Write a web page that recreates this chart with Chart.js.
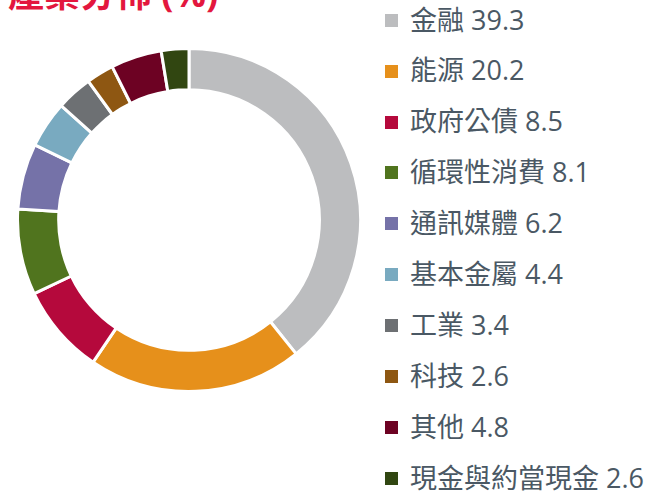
<!DOCTYPE html>
<html>
<head>
<meta charset="utf-8">
<script src="https://cdn.jsdelivr.net/npm/chart.js@4"></script>
<style>
  html, body { margin: 0; padding: 0; background: #fff; }
  body { width: 653px; height: 495px; overflow: hidden; position: relative;
         font-family: "Open Sans", "Noto Sans CJK TC", sans-serif; }
  #title { position: absolute; left: 8px; top: -35px; margin: 0;
           font-size: 36px; font-weight: bold; color: #e3173e; white-space: nowrap;
           font-family: "Open Sans", "Noto Sans CJK TC", sans-serif; }
  #box { position: absolute; left: 16px; top: 47px; width: 346px; height: 346px; }
  #legend { position: absolute; left: 385px; top: -5.5px; margin: 0; padding: 0; list-style: none; }
  #legend li { height: 50.9px; line-height: 50.9px; font-size: 27px; color: #4a5864; white-space: nowrap; }
  #legend span { display: inline-block; width: 13px; height: 13px; margin-right: 12px; vertical-align: middle; position: relative; top: -2px; }
</style>
</head>
<body>
<h1 id="title">產業分佈 (%)</h1>
<div id="box"><canvas id="donut"></canvas></div>
<ul id="legend"></ul>
<script>
const sectors = ['金融', '能源', '政府公債', '循環性消費', '通訊媒體', '基本金屬', '工業', '科技', '其他', '現金與約當現金'];
const weights = [39.3, 20.2, 8.5, 8.1, 6.2, 4.4, 3.4, 2.6, 4.8, 2.6];
const colors = ['#bcbdbf', '#e6901b', '#b5093c', '#50741e', '#7572a8', '#79aac0', '#6d7073', '#8e5712', '#6d0223', '#314611'];

const ctx = document.getElementById('donut');

const chart = new Chart(ctx, {
    type: 'doughnut',
    data: {
        labels: sectors,
        datasets: [{
            data: weights,
            backgroundColor: colors,
            borderColor: '#ffffff',
            borderWidth: 3
        }]
    },
    options: {
        responsive: true,
        maintainAspectRatio: false,
        animation: false,
        cutout: '76%',
        plugins: {
            legend: { display: false },
            tooltip: { enabled: false }
        }
    }
});

// legend built from the chart's own data
const legend = document.getElementById('legend');
chart.data.labels.forEach((name, i) => {
    const li = document.createElement('li');
    const sw = document.createElement('span');
    sw.style.background = chart.data.datasets[0].backgroundColor[i];
    li.appendChild(sw);
    li.appendChild(document.createTextNode(name + ' ' + chart.data.datasets[0].data[i]));
    legend.appendChild(li);
});
</script>
</body>
</html>
